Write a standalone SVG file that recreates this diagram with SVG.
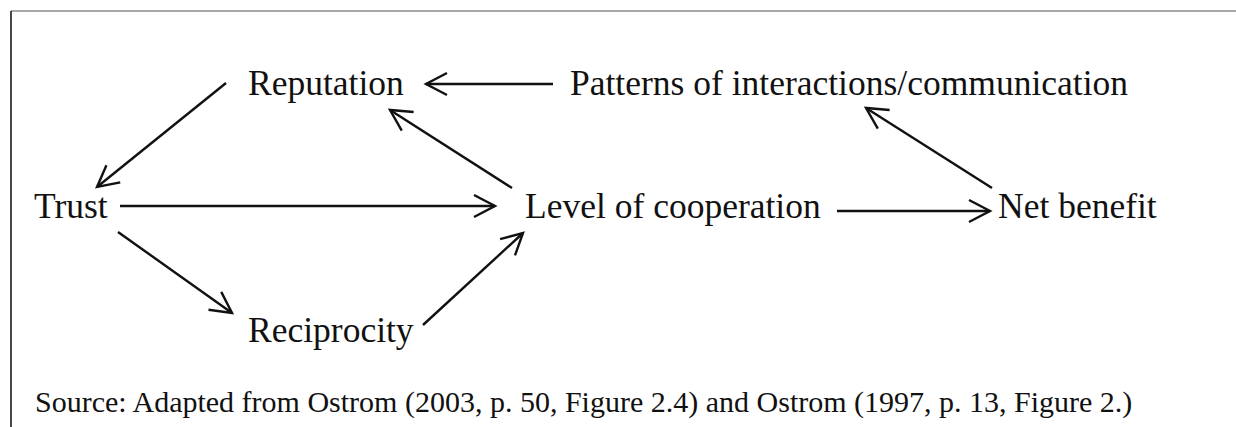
<svg xmlns="http://www.w3.org/2000/svg" width="1236" height="427" viewBox="0 0 1236 427">
<defs>
<style>
.lbl{font-family:"Liberation Serif","Times New Roman",serif;font-size:35.5px;fill:#111}
.src{font-family:"Liberation Serif","Times New Roman",serif;font-size:30px;fill:#111}
.edge{stroke:#111;stroke-width:2.4;fill:none}
</style>
<marker id="ah" markerUnits="userSpaceOnUse" markerWidth="30" markerHeight="30" viewBox="-24 -15 28 30" refX="0" refY="0" orient="auto">
<path d="M-21,-11 L0,0 L-21,11" fill="none" stroke="#111" stroke-width="2.4" stroke-linejoin="miter"/>
</marker>
</defs>
<rect width="1236" height="427" fill="#fff"/>
<g id="frame">
<line x1="11" y1="11" x2="1236" y2="11" stroke="#8a8a8a" stroke-width="1.5"/>
<line x1="11" y1="11" x2="11" y2="427" stroke="#333" stroke-width="1.8"/>
</g>
<g id="connectors">
<line class="edge" x1="553" y1="84" x2="426" y2="84" marker-end="url(#ah)"/>
<line class="edge" x1="226" y1="83" x2="97" y2="187" marker-end="url(#ah)"/>
<line class="edge" x1="512" y1="188" x2="390" y2="110" marker-end="url(#ah)"/>
<line class="edge" x1="120" y1="206" x2="495" y2="206" marker-end="url(#ah)"/>
<line class="edge" x1="118" y1="232" x2="232" y2="313" marker-end="url(#ah)"/>
<line class="edge" x1="423" y1="325" x2="523" y2="233" marker-end="url(#ah)"/>
<line class="edge" x1="837" y1="211" x2="990" y2="211" marker-end="url(#ah)"/>
<line class="edge" x1="992" y1="188" x2="866" y2="108" marker-end="url(#ah)"/>
</g>
<g id="reputation"><text class="lbl" x="248" y="95">Reputation</text></g>
<g id="patterns"><text class="lbl" x="570" y="95">Patterns of interactions/communication</text></g>
<g id="trust"><text class="lbl" x="34" y="218">Trust</text></g>
<g id="level"><text class="lbl" x="525" y="218">Level of cooperation</text></g>
<g id="netbenefit"><text class="lbl" x="998" y="218">Net benefit</text></g>
<g id="reciprocity"><text class="lbl" x="248" y="342">Reciprocity</text></g>
<g id="source"><text class="src" x="35" y="412">Source: Adapted from Ostrom (2003, p. 50, Figure 2.4) and Ostrom (1997, p. 13, Figure 2.)</text></g>
</svg>
